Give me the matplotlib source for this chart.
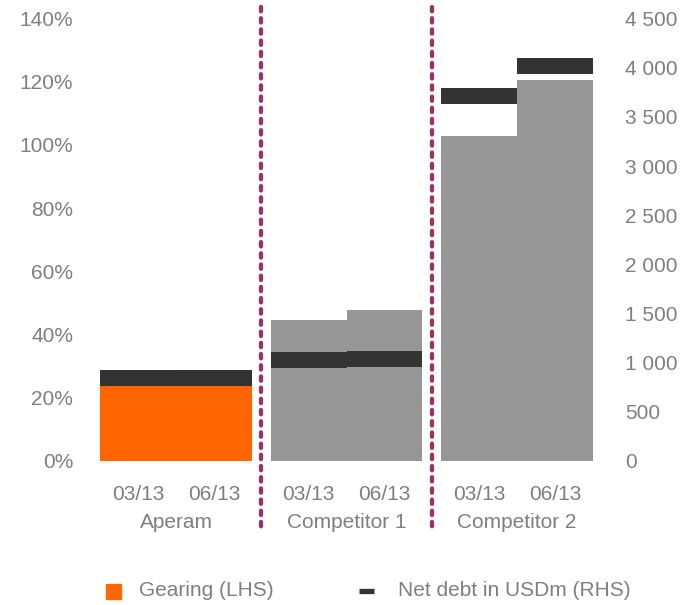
import matplotlib
matplotlib.use("Agg")
import matplotlib.pyplot as plt
import matplotlib.transforms as mtransforms
from matplotlib.lines import Line2D
from matplotlib.patches import Rectangle
from matplotlib.ticker import FuncFormatter

plt.rcParams['font.family'] = ['Liberation Sans', 'DejaVu Sans']

# DATA
companies = ["Aperam", "Competitor 1", "Competitor 2"]
periods = ["03/13", "06/13"]
gearing = [0.272, 0.288, 0.447, 0.478, 1.029, 1.207]      # LHS, ratio
net_debt = [840, 840, 1025, 1040, 3713, 4018]             # RHS, USDm
bar_colors = ["#FF6600", "#FF6600", "#969696", "#969696", "#969696", "#969696"]

# LAYOUT
group_step = 2.245
x = []
for g in range(len(companies)):
    x.append(g * group_step - 0.5)
    x.append(g * group_step + 0.5)

grey = "#7f7f7f"
dark = "#333333"
divider = "#993366"
fs = 15

fig = plt.figure(figsize=(6.87, 6.05), dpi=100)
ax = fig.add_axes([100 / 687, (605 - 461) / 605, 493 / 687, 442.5 / 605])
ax2 = ax.twinx()

ax.bar(x, gearing, width=1.0, color=bar_colors, zorder=1)
ax2.hlines(net_debt, [v - 0.5 for v in x], [v + 0.5 for v in x],
           colors=dark, linewidth=11.5, capstyle='butt', zorder=3)

ax.set_xlim(-1, (len(companies) - 1) * group_step + 1)
ax.set_ylim(0, 1.4)
ax2.set_ylim(0, 4500)
ax.set_yticks([i * 0.2 for i in range(8)])
ax2.set_yticks(range(0, 4501, 500))
ax.yaxis.set_major_formatter(FuncFormatter(lambda v, p: f"{v * 100:.0f}%"))
ax2.yaxis.set_major_formatter(FuncFormatter(lambda v, p: f"{v:,.0f}".replace(",", " ")))

for a in (ax, ax2):
    for s in a.spines.values():
        s.set_visible(False)
    a.set_xticks([])
ax.tick_params(axis='y', length=0, pad=19.4, labelsize=fs, labelcolor=grey)
ax2.tick_params(axis='y', length=0, pad=23, labelsize=fs, labelcolor=grey)

# category labels
trans = mtransforms.blended_transform_factory(ax.transData, ax.transAxes)
for i, xv in enumerate(x):
    ax.text(xv, -0.075, periods[i % 2], transform=trans, ha='center', va='center',
            fontsize=fs, color=grey)
for g, name in enumerate(companies):
    ax.text(g * group_step, -0.140, name, transform=trans, ha='center', va='center',
            fontsize=fs, color=grey)

# dotted dividers between groups
for g in range(len(companies) - 1):
    xd = (g + 0.5) * group_step
    ax.plot([xd, xd], [1.026, -0.156], transform=trans, clip_on=False,
            color=divider, linewidth=3.1, dashes=(1.0, 1.6),
            dash_capstyle='round', zorder=5)

# legend
ly = (605 - 591) / 605
fig.patches.append(Rectangle((106 / 687, (605 - 599) / 605), 15 / 687, 15 / 605,
                             transform=fig.transFigure, color="#FF6600"))
fig.text(139 / 687, ly, "Gearing (LHS)", ha='left', va='center', fontsize=fs, color=grey)
fig.lines.append(Line2D([359 / 687, 374 / 687], [ly, ly], transform=fig.transFigure,
                        color=dark, linewidth=3.8, solid_capstyle='butt'))
fig.text(398 / 687, ly, "Net debt in USDm (RHS)", ha='left', va='center', fontsize=fs, color=grey)

fig.savefig("out.png", dpi=100)
